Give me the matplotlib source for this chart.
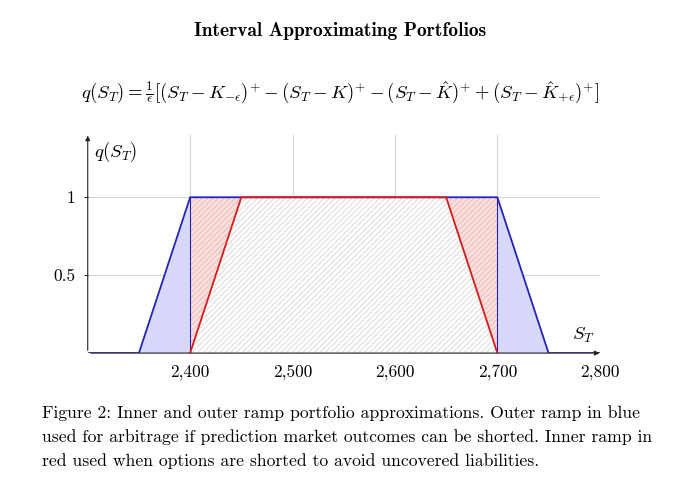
import numpy as np
import matplotlib
matplotlib.use("Agg")
import matplotlib.pyplot as plt

plt.rcParams["font.family"] = ["cmr10", "DejaVu Serif"]
plt.rcParams["mathtext.fontset"] = "cm"
plt.rcParams["axes.formatter.use_mathtext"] = True
plt.rcParams["hatch.linewidth"] = 0.5

# outer ramp (blue) and inner ramp (red)
outer_x = [2300, 2350, 2400, 2700, 2750, 2800]
outer_y = [0, 0, 1, 1, 0, 0]
inner_x = [2400, 2450, 2650, 2700]
inner_y = [0, 1, 1, 0]

x_ticks = [2400, 2500, 2600, 2700, 2800]
x_labels = ["2,400", "2,500", "2,600", "2,700", "2,800"]
y_ticks = [0.5, 1]
y_labels = ["0.5", "1"]

blue = "#2424b8"
red = "#d81c1c"

fig = plt.figure(figsize=(6.8, 4.98), dpi=100)
ax = fig.add_axes([0.129, 0.291, 0.753, 0.438])

# grid
for xv in x_ticks:
    ax.plot([xv, xv], [0, 1.4], color="#d4d4d4", lw=0.8, zorder=0)
for yv in y_ticks:
    ax.plot([2300, 2800], [yv, yv], color="#d4d4d4", lw=0.8, zorder=0)

# fills
xs = np.linspace(2300, 2800, 1001)
outer_i = np.interp(xs, outer_x, outer_y)
inner_i = np.interp(xs, inner_x, inner_y)
mid = (xs >= 2400) & (xs <= 2700)
ax.fill_between(xs, 0, outer_i, color="#d8d8fa", lw=0, zorder=1)
ax.fill_between(xs, 0, outer_i, where=mid, facecolor="white",
                edgecolor="#cccccc", hatch="//////", lw=0, zorder=2)
ax.fill_between(xs, inner_i, outer_i, where=mid, facecolor=(1, 0.35, 0.35, 0.2),
                lw=0, zorder=3)
ax.vlines([2400, 2700], 0, 1, color=blue, lw=0.8, zorder=4)

# ramps
ax.plot(outer_x, outer_y, color=blue, lw=1.3, zorder=5)
ax.plot(inner_x, inner_y, color=red, lw=1.3, zorder=6)

ax.set_xlim(2300, 2800)
ax.set_ylim(0, 1.4)
for s in ax.spines.values():
    s.set_visible(False)
ax.set_xticks(x_ticks)
ax.set_xticklabels(x_labels, fontsize=12.5)
ax.set_yticks(y_ticks)
ax.set_yticklabels(y_labels, fontsize=12.5)
ax.tick_params(axis="x", length=0, pad=8)
ax.tick_params(axis="y", length=3, width=0.6, pad=6)

# axis arrows
ax.annotate("", xy=(1.005, 0), xytext=(0, 0), xycoords="axes fraction",
            arrowprops=dict(arrowstyle="-|>", lw=0.8, color="#222222",
                            mutation_scale=7), zorder=7)
ax.annotate("", xy=(0, 1.01), xytext=(0, 0), xycoords="axes fraction",
            arrowprops=dict(arrowstyle="-|>", lw=0.8, color="#222222",
                            mutation_scale=7), zorder=7)
ax.text(0.012, 0.92, r"$q(S_T)$", transform=ax.transAxes, fontsize=13.5,
        ha="left", va="center")
ax.text(0.99, 0.08, r"$S_T$", transform=ax.transAxes, fontsize=13.5,
        ha="right", va="center")

fig.text(0.5, 0.938, "Interval Approximating Portfolios", fontsize=14,
         family=["cmb10", "DejaVu Serif"], ha="center", va="center")
fig.text(0.5, 0.815,
         r"$q(S_T) = \frac{1}{\epsilon}[(S_T - K_{-\epsilon})^{+} - (S_T - K)^{+}"
         r" - (S_T - \hat{K})^{+} + (S_T - \hat{K}_{+\epsilon})^{+}]$",
         fontsize=13.5, ha="center", va="center")

caption = ["Figure 2: Inner and outer ramp portfolio approximations. Outer ramp in blue",
           "used for arbitrage if prediction market outcomes can be shorted. Inner ramp in",
           "red used when options are shorted to avoid uncovered liabilities."]
for i, line in enumerate(caption):
    fig.text(0.062, 0.171 - i * 0.048, line, fontsize=12.7, ha="left", va="center")

fig.savefig("out.png", dpi=100)
